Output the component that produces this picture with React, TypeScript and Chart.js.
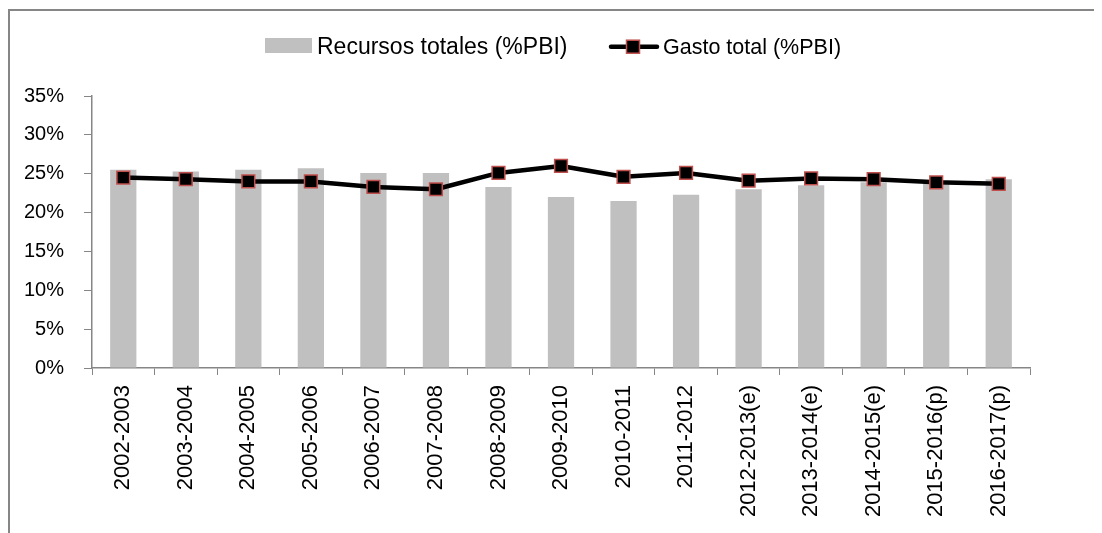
import React, { useEffect, useRef } from "react";
import { Chart, registerables } from "chart.js";

Chart.register(...registerables);

const categories = [
  "2002-2003",
  "2003-2004",
  "2004-2005",
  "2005-2006",
  "2006-2007",
  "2007-2008",
  "2008-2009",
  "2009-2010",
  "2010-2011",
  "2011-2012",
  "2012-2013(e)",
  "2013-2014(e)",
  "2014-2015(e)",
  "2015-2016(p)",
  "2016-2017(p)",
];

const recursosTotales = [25.5, 25.3, 25.5, 25.7, 25.1, 25.1, 23.3, 22.0, 21.5, 22.3, 23.0, 23.5, 23.9, 23.9, 24.3];
const gastoTotal = [24.5, 24.3, 24.0, 24.0, 23.3, 23.0, 25.1, 26.0, 24.6, 25.1, 24.1, 24.4, 24.3, 23.9, 23.7];

const seriesLabels = ["Recursos totales (%PBI)", "Gasto total (%PBI)"];
const yMin = 0;
const yMax = 35;
const yStep = 5;

const FONT = "'Liberation Sans', Arial, sans-serif";
const BAR_COLOR = "#c0c0c0";
const LINE_COLOR = "#000000";
const MARKER_BORDER = "#c0504d";
const AXIS_COLOR = "#868686";

const W = 1094;
const H = 525;

const legendPlugin = {
  id: "customLegend",
  afterDraw(chart: any) {
    const ctx = chart.ctx as CanvasRenderingContext2D;
    const ds = chart.data.datasets;
    ctx.save();
    ctx.textBaseline = "alphabetic";
    ctx.textAlign = "left";
    // bar item
    ctx.fillStyle = BAR_COLOR;
    ctx.fillRect(257, 30, 47, 15);
    ctx.fillStyle = "#000";
    ctx.font = `23px ${FONT}`;
    ctx.fillText(ds[0].label, 309, 46);
    // line item
    const ly = 38.7;
    ctx.strokeStyle = LINE_COLOR;
    ctx.lineWidth = 4.5;
    ctx.lineCap = "round";
    ctx.beginPath();
    ctx.moveTo(603, ly);
    ctx.lineTo(649, ly);
    ctx.stroke();
    ctx.fillStyle = LINE_COLOR;
    ctx.fillRect(625 - 6.5, ly - 6.5, 13, 13);
    ctx.strokeStyle = MARKER_BORDER;
    ctx.lineWidth = 1.5;
    ctx.strokeRect(625 - 6.5, ly - 6.5, 13, 13);
    ctx.fillStyle = "#000";
    ctx.font = `21.5px ${FONT}`;
    ctx.fillText(ds[1].label, 655, 46);
    ctx.restore();
  },
};

export default function App() {
  const canvasRef = useRef<HTMLCanvasElement | null>(null);

  useEffect(() => {
    document.body.style.overflow = "hidden";
    const canvas = canvasRef.current;
    if (!canvas) return;
    const chart = new Chart(canvas, {
      type: "bar",
      data: {
        labels: categories,
        datasets: [
          {
            type: "bar",
            label: seriesLabels[0],
            data: recursosTotales,
            backgroundColor: BAR_COLOR,
            borderWidth: 0,
            barPercentage: 0.42,
            categoryPercentage: 1,
            order: 2,
          } as any,
          {
            type: "line",
            label: seriesLabels[1],
            data: gastoTotal,
            borderColor: LINE_COLOR,
            borderWidth: 4.5,
            borderCapStyle: "round",
            borderJoinStyle: "round",
            tension: 0,
            fill: false,
            pointStyle: "rect",
            pointRadius: 9,
            pointHoverRadius: 9,
            pointBackgroundColor: LINE_COLOR,
            pointBorderColor: MARKER_BORDER,
            pointBorderWidth: 1.5,
            order: 1,
          } as any,
        ],
      },
      options: {
        responsive: false,
        animation: false,
        devicePixelRatio: 1,
        layout: { padding: { top: 88, right: 72, bottom: 0, left: 0 } },
        plugins: {
          legend: { display: false },
          tooltip: { enabled: false },
          title: { display: false },
        },
        scales: {
          x: {
            offset: true,
            grid: {
              display: true,
              offset: true,
              drawOnChartArea: false,
              drawTicks: true,
              tickLength: 7,
              color: AXIS_COLOR,
            },
            border: { display: true, color: AXIS_COLOR, width: 1.5 },
            ticks: {
              autoSkip: false,
              maxRotation: 90,
              minRotation: 90,
              padding: 10,
              color: "#000",
              font: { family: FONT, size: 22 },
            },
            afterFit(scale: any) {
              scale.height = 165;
            },
          },
          y: {
            min: yMin,
            max: yMax,
            grid: {
              display: true,
              drawOnChartArea: false,
              drawTicks: true,
              tickLength: 8,
              color: AXIS_COLOR,
            },
            border: { display: true, color: AXIS_COLOR, width: 1.5 },
            ticks: {
              stepSize: yStep,
              padding: 20,
              color: "#000",
              font: { family: FONT, size: 20 },
              callback: (v: any) => `${v}%`,
            },
            afterFit(scale: any) {
              scale.width = 84;
            },
          },
        },
      },
      plugins: [legendPlugin],
    });
    return () => chart.destroy();
  }, []);

  return (
    <div style={{ position: "relative", width: W, height: H, overflow: "hidden" }}>
      <div
        style={{
          position: "absolute",
          left: 0,
          top: 1,
          width: W + 100,
          height: H + 100,
          borderLeft: `2px solid ${AXIS_COLOR}`,
          borderTop: `2px solid ${AXIS_COLOR}`,
          boxSizing: "border-box",
        }}
      />
      <canvas
        ref={canvasRef}
        width={W}
        height={H}
        style={{ position: "absolute", left: 0, top: 0, width: W, height: H }}
      />
    </div>
  );
}
